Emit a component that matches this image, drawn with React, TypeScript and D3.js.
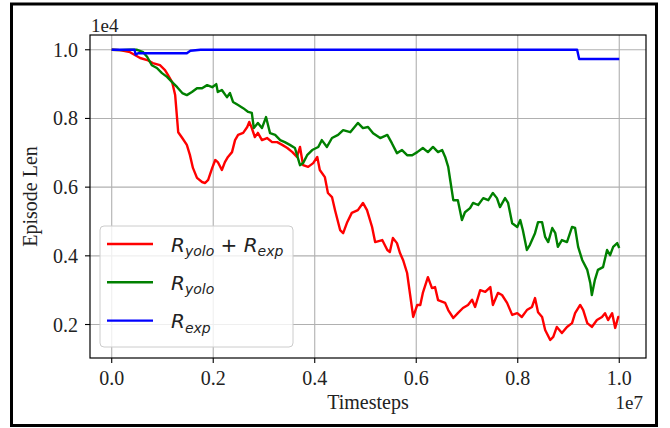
import * as d3 from 'd3';

// timesteps in units of 1e7, episode length in units of 1e4 (as the axes show them)
const redT = [0, 0.016, 0.036, 0.056, 0.07, 0.081, 0.095, 0.105, 0.111, 0.119, 0.125, 0.131, 0.139, 0.148, 0.154, 0.16, 0.168, 0.178, 0.184, 0.19, 0.198, 0.204, 0.209, 0.217, 0.223, 0.229, 0.237, 0.243, 0.249, 0.259, 0.267, 0.271, 0.276, 0.282, 0.288, 0.296, 0.306, 0.316, 0.326, 0.336, 0.346, 0.356, 0.365, 0.371, 0.377, 0.387, 0.397, 0.405, 0.41, 0.42, 0.426, 0.434, 0.44, 0.45, 0.456, 0.464, 0.473, 0.485, 0.495, 0.503, 0.513, 0.519, 0.533, 0.543, 0.548, 0.554, 0.562, 0.568, 0.574, 0.582, 0.588, 0.594, 0.602, 0.608, 0.613, 0.623, 0.631, 0.637, 0.643, 0.657, 0.663, 0.673, 0.682, 0.692, 0.702, 0.71, 0.716, 0.726, 0.736, 0.746, 0.751, 0.761, 0.769, 0.779, 0.789, 0.799, 0.808, 0.818, 0.828, 0.834, 0.84, 0.848, 0.854, 0.864, 0.87, 0.877, 0.887, 0.897, 0.907, 0.913, 0.923, 0.929, 0.937, 0.946, 0.956, 0.966, 0.972, 0.978, 0.986, 0.992, 0.998, 1.0];
const redLen = [1.0, 0.999, 0.993, 0.976, 0.97, 0.961, 0.955, 0.941, 0.926, 0.906, 0.868, 0.76, 0.743, 0.723, 0.694, 0.656, 0.627, 0.615, 0.612, 0.621, 0.656, 0.679, 0.673, 0.65, 0.673, 0.688, 0.702, 0.737, 0.752, 0.758, 0.775, 0.79, 0.772, 0.746, 0.758, 0.737, 0.743, 0.731, 0.731, 0.723, 0.714, 0.702, 0.688, 0.717, 0.664, 0.659, 0.67, 0.688, 0.65, 0.629, 0.583, 0.571, 0.533, 0.475, 0.466, 0.498, 0.525, 0.533, 0.554, 0.533, 0.484, 0.44, 0.446, 0.417, 0.411, 0.452, 0.437, 0.408, 0.388, 0.35, 0.286, 0.222, 0.257, 0.257, 0.292, 0.338, 0.306, 0.309, 0.271, 0.263, 0.242, 0.219, 0.233, 0.248, 0.257, 0.272, 0.251, 0.3, 0.295, 0.309, 0.257, 0.292, 0.286, 0.263, 0.228, 0.233, 0.222, 0.242, 0.251, 0.277, 0.236, 0.222, 0.184, 0.155, 0.164, 0.193, 0.175, 0.193, 0.204, 0.233, 0.257, 0.242, 0.204, 0.193, 0.213, 0.222, 0.233, 0.213, 0.233, 0.19, 0.222, 0.222];

const greenT = [0, 0.016, 0.036, 0.05, 0.062, 0.07, 0.079, 0.089, 0.099, 0.109, 0.119, 0.129, 0.139, 0.148, 0.158, 0.168, 0.178, 0.188, 0.198, 0.206, 0.209, 0.217, 0.227, 0.233, 0.239, 0.249, 0.259, 0.269, 0.276, 0.28, 0.288, 0.296, 0.304, 0.312, 0.322, 0.332, 0.341, 0.351, 0.361, 0.371, 0.377, 0.385, 0.395, 0.407, 0.414, 0.424, 0.434, 0.446, 0.456, 0.47, 0.485, 0.495, 0.505, 0.515, 0.529, 0.543, 0.552, 0.562, 0.572, 0.582, 0.592, 0.602, 0.613, 0.623, 0.633, 0.643, 0.651, 0.657, 0.663, 0.667, 0.673, 0.682, 0.69, 0.696, 0.706, 0.712, 0.722, 0.732, 0.742, 0.751, 0.759, 0.765, 0.775, 0.781, 0.789, 0.799, 0.805, 0.81, 0.818, 0.824, 0.834, 0.84, 0.848, 0.854, 0.86, 0.868, 0.874, 0.879, 0.887, 0.897, 0.907, 0.913, 0.919, 0.927, 0.937, 0.943, 0.946, 0.952, 0.958, 0.968, 0.976, 0.982, 0.988, 0.996, 1.0];
const greenLen = [1.0, 0.999, 1.0, 1.0, 0.993, 0.979, 0.955, 0.947, 0.932, 0.921, 0.906, 0.891, 0.874, 0.868, 0.877, 0.888, 0.888, 0.897, 0.891, 0.9, 0.877, 0.883, 0.862, 0.874, 0.848, 0.839, 0.83, 0.819, 0.816, 0.772, 0.787, 0.772, 0.804, 0.757, 0.752, 0.737, 0.731, 0.723, 0.714, 0.664, 0.67, 0.693, 0.708, 0.717, 0.737, 0.717, 0.743, 0.752, 0.766, 0.76, 0.787, 0.772, 0.775, 0.757, 0.743, 0.752, 0.728, 0.699, 0.708, 0.693, 0.693, 0.702, 0.714, 0.702, 0.717, 0.702, 0.708, 0.688, 0.659, 0.62, 0.562, 0.562, 0.504, 0.527, 0.539, 0.554, 0.548, 0.568, 0.562, 0.583, 0.568, 0.542, 0.568, 0.554, 0.495, 0.484, 0.504, 0.475, 0.417, 0.432, 0.466, 0.498, 0.498, 0.455, 0.44, 0.481, 0.466, 0.426, 0.446, 0.44, 0.484, 0.481, 0.426, 0.388, 0.359, 0.32, 0.286, 0.33, 0.359, 0.367, 0.417, 0.402, 0.426, 0.437, 0.423];

const blueT = [0, 0.045, 0.047, 0.052, 0.148, 0.155, 0.175, 0.917, 0.921, 1.0];
const blueLen = [1.0, 1.0, 0.986, 0.99, 0.99, 0.997, 1.0, 1.0, 0.973, 0.973];

const xTicks = [0, 0.2, 0.4, 0.6, 0.8, 1.0];
const yTicks = [0.2, 0.4, 0.6, 0.8, 1.0];

const seriesInfo = [
  { name: 'both', color: 'red', t: redT, v: redLen, label: [['R', 'yolo'], ['R', 'exp']] },
  { name: 'yolo', color: 'green', t: greenT, v: greenLen, label: [['R', 'yolo']] },
  { name: 'exp', color: 'blue', t: blueT, v: blueLen, label: [['R', 'exp']] },
];

export default function App() {
  const width = 670;
  const height = 428;
  const left = 90, right = 646, top = 35, bottom = 358;

  const x = d3.scaleLinear().domain([-0.0428, 1.0527]).range([left, right]);
  const y = d3.scaleLinear().domain([0.1025, 1.043]).range([bottom, top]);

  const line = d3.line<[number, number]>()
    .x(d => x(d[0]))
    .y(d => y(d[1]));

  const serif = '"Liberation Serif", "Times New Roman", serif';
  const mathFont = '"DejaVu Sans", sans-serif';

  const legX = 100, legY = 226, legW = 193, legH = 121;

  return (
    <svg width={width} height={height} style={{ position: 'absolute', left: 0, top: 0, background: 'white' }}>
      <rect x={11.5} y={4} width={645} height={421.5} fill="white" stroke="black" strokeWidth={3} />

      {/* grid */}
      {xTicks.map(t => (
        <line key={'gx' + t} x1={x(t)} x2={x(t)} y1={top} y2={bottom} stroke="#b0b0b0" strokeWidth={1.1} />
      ))}
      {yTicks.map(t => (
        <line key={'gy' + t} x1={left} x2={right} y1={y(t)} y2={y(t)} stroke="#b0b0b0" strokeWidth={1.1} />
      ))}

      {/* series */}
      {seriesInfo.map(s => (
        <path key={s.name} d={line(s.t.map((t, i) => [t, s.v[i]]) as [number, number][]) || ''}
          fill="none" stroke={s.color} strokeWidth={2.4} strokeLinejoin="round" />
      ))}

      {/* axes frame */}
      <rect x={left} y={top} width={right - left} height={bottom - top} fill="none" stroke="black" strokeWidth={1.2} />

      {xTicks.map(t => (
        <g key={'xt' + t}>
          <line x1={x(t)} x2={x(t)} y1={bottom} y2={bottom + 5} stroke="black" strokeWidth={1.1} />
          <text x={x(t)} y={bottom + 27} textAnchor="middle" fontFamily={serif} fontSize={20} fill="#222">{t.toFixed(1)}</text>
        </g>
      ))}
      {yTicks.map(t => (
        <g key={'yt' + t}>
          <line x1={left - 5} x2={left} y1={y(t)} y2={y(t)} stroke="black" strokeWidth={1.1} />
          <text x={left - 12} y={y(t) + 7} textAnchor="end" fontFamily={serif} fontSize={20} fill="#222">{t.toFixed(1)}</text>
        </g>
      ))}

      <text x={left + 1} y={31.5} fontFamily={serif} fontSize={19} fill="#222">1e4</text>
      <text x={643} y={409} textAnchor="end" fontFamily={serif} fontSize={19} fill="#222">1e7</text>
      <text x={(left + right) / 2} y={409} textAnchor="middle" fontFamily={serif} fontSize={20} fill="#222">Timesteps</text>
      <text transform={`translate(37,${(top + bottom) / 2}) rotate(-90)`} textAnchor="middle" fontFamily={serif} fontSize={20} fill="#222">Episode Len</text>

      {/* legend */}
      <rect x={legX} y={legY} width={legW} height={legH} rx={4} fill="white" fillOpacity={0.8} stroke="#cccccc" strokeWidth={1} />
      {seriesInfo.map((s, i) => {
        const ly = 244 + i * 38.3;
        return (
          <g key={'leg' + s.name}>
            <line x1={107} x2={153} y1={ly} y2={ly} stroke={s.color} strokeWidth={2.4} />
            <text x={171} y={ly + 7.5} fontFamily={mathFont} fontSize={20} fontStyle="italic" fill="#222">
              {s.label.map((p, j) => (
                <tspan key={j}>
                  {j > 0 ? <tspan fontStyle="normal" dy={-4.5}>{' + '}</tspan> : null}
                  <tspan>{p[0]}</tspan>
                  <tspan fontSize={14} dy={4.5}>{p[1]}</tspan>
                </tspan>
              ))}
            </text>
          </g>
        );
      })}
    </svg>
  );
}
